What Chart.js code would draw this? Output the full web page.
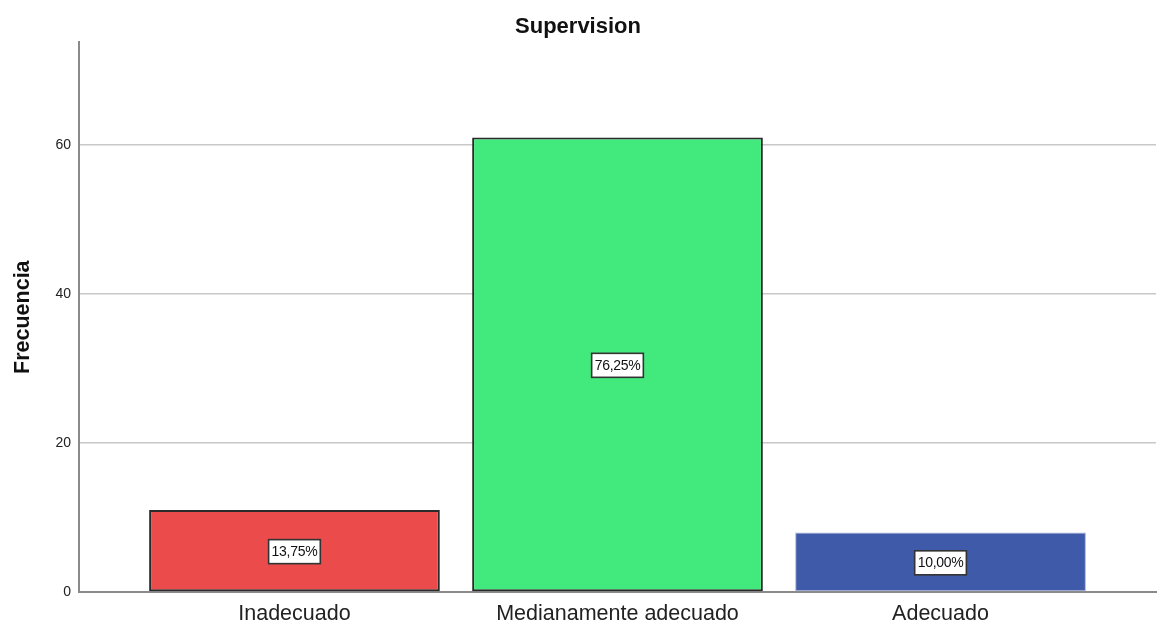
<!DOCTYPE html>
<html>
<head>
<meta charset="utf-8">
<title>Supervision</title>
<script src="https://cdn.jsdelivr.net/npm/chart.js@4/dist/chart.umd.min.js"></script>
<style>
  html, body { margin: 0; padding: 0; background: #ffffff; }
  #wrap { width: 1162px; height: 632px; position: relative; }
</style>
</head>
<body>
<div id="wrap"><canvas id="chart" width="1162" height="632"></canvas></div>
<script>
// Frequency of each supervision rating
const categories = ['Inadecuado', 'Medianamente adecuado', 'Adecuado'];
const counts = [11, 61, 8];
const yTicks = [0, 20, 40, 60];

const barColors = ['#EC4B4C', '#42EA7D', '#3F5AA8'];
const barBorders = ['#2a2a2a', '#2a2a2a', '#a9b3d8'];
const FONT = '"Liberation Sans", Arial, sans-serif';

const total = counts.reduce((a, b) => a + b, 0);
const fmtPct = v => (v / total * 100).toFixed(2).replace('.', ',') + '%';

// Boxed percentage label drawn in the middle of each bar
const pctLabels = {
  id: 'pctLabels',
  afterDatasetsDraw(chart) {
    const ctx = chart.ctx;
    const meta = chart.getDatasetMeta(0);
    ctx.save();
    ctx.font = '14px ' + FONT;
    if ('letterSpacing' in ctx) ctx.letterSpacing = '-0.3px';
    ctx.textAlign = 'center';
    ctx.textBaseline = 'middle';
    meta.data.forEach((bar, i) => {
      const text = fmtPct(counts[i]);
      const cx = bar.x;
      const cy = (bar.y + bar.base) / 2 + 1;
      const w = ctx.measureText(text).width + 6;
      const h = 24;
      ctx.fillStyle = '#ffffff';
      ctx.fillRect(cx - w / 2, cy - h / 2, w, h);
      ctx.lineWidth = 1.6;
      ctx.strokeStyle = '#333333';
      ctx.strokeRect(cx - w / 2, cy - h / 2, w, h);
      ctx.fillStyle = '#111111';
      ctx.fillText(text, cx, cy + 0.5);
    });
    ctx.restore();
  }
};

new Chart(document.getElementById('chart'), {
  type: 'bar',
  data: {
    datasets: [{
      data: counts.map((c, i) => ({ x: i, y: c })),
      backgroundColor: barColors,
      borderColor: barBorders,
      borderWidth: [2, 2, 1],
      borderSkipped: false,
      categoryPercentage: 1,
      barPercentage: 0.9
    }]
  },
  options: {
    responsive: false,
    animation: false,
    events: [],
    layout: { padding: { left: 0, right: 6, top: 0, bottom: 0 } },
    plugins: {
      legend: { display: false },
      tooltip: { enabled: false },
      title: {
        display: true,
        text: 'Supervision',
        color: '#111111',
        font: { family: FONT, size: 22, weight: 'bold', lineHeight: 1.2 },
        padding: { top: 14, bottom: 2 }
      }
    },
    scales: {
      x: {
        type: 'linear',
        min: -0.667,
        max: 2.667,
        offset: false,
        grid: { display: false, drawTicks: false },
        border: { display: true, color: '#8a8a8a', width: 2 },
        afterBuildTicks(scale) {
          scale.ticks = categories.map((_, i) => ({ value: i }));
        },
        afterFit(scale) { scale.height = 40; },
        ticks: {
          autoSkip: false,
          maxRotation: 0,
          padding: 9,
          color: '#222222',
          font: { family: FONT, size: 21.5 },
          callback: v => categories[v] ?? ''
        }
      },
      y: {
        min: 0,
        max: 73.75,
        afterBuildTicks(scale) {
          scale.ticks = yTicks.map(v => ({ value: v }));
        },
        afterFit(scale) { scale.width = 79; },
        grid: {
          drawTicks: false,
          lineWidth: 1.5,
          color: ctx => (ctx.tick && ctx.tick.value === 0) ? 'rgba(0,0,0,0)' : '#c8c8c8'
        },
        border: { display: true, color: '#8a8a8a', width: 2 },
        ticks: {
          padding: 8,
          color: '#222222',
          font: { family: FONT, size: 14 }
        },
        title: {
          display: true,
          text: 'Frecuencia',
          color: '#111111',
          font: { family: FONT, size: 21.5, weight: 'bold', lineHeight: 1.2 },
          padding: { top: 10, bottom: 0 }
        }
      }
    }
  },
  plugins: [pctLabels]
});
</script>
</body>
</html>
